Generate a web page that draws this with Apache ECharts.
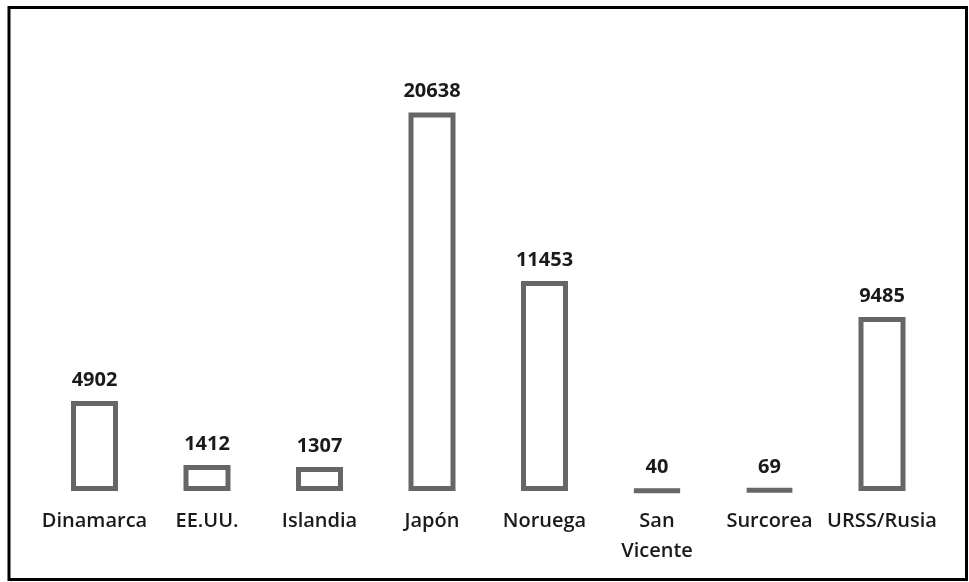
<!DOCTYPE html>
<html>
<head>
<meta charset="utf-8">
<script src="https://cdn.jsdelivr.net/npm/echarts@6/dist/echarts.min.js"></script>
<style>
  html, body { margin: 0; padding: 0; background: #ffffff; }
  #chart { width: 969px; height: 582px; }
</style>
</head>
<body>
<div id="chart"></div>
<script>
// Países y capturas
const categories = ['Dinamarca', 'EE.UU.', 'Islandia', 'Japón', 'Noruega', 'San Vicente', 'Surcorea', 'URSS/Rusia'];
const values = [4902, 1412, 1307, 20638, 11453, 40, 69, 9485];

const chart = echarts.init(document.getElementById('chart'));

chart.setOption({
  backgroundColor: '#ffffff',
  animation: false,
  textStyle: { fontFamily: '"Open Sans", "Noto Sans", sans-serif' },
  grid: { left: 38.25, right: 30.75, top: 87.6, bottom: 91, containLabel: false },
  xAxis: {
    type: 'category',
    data: categories,
    axisLine: { show: false },
    axisTick: { show: false },
    axisLabel: {
      interval: 0,
      margin: 15,
      fontSize: 20,
      fontWeight: 600,
      lineHeight: 30,
      color: '#1a1a1a',
      formatter: v => v.replace(' ', '\n')
    }
  },
  yAxis: {
    type: 'value',
    min: 0,
    max: 22000,
    show: false,
    splitLine: { show: false }
  },
  series: [{
    type: 'bar',
    data: values,
    barWidth: 47,
    itemStyle: {
      color: '#ffffff',
      borderColor: '#666666',
      borderWidth: 5
    },
    label: {
      show: true,
      position: 'top',
      distance: 11,
      fontFamily: '"Open Sans", "Noto Sans", sans-serif',
      fontSize: 20,
      fontWeight: 'bold',
      color: '#1a1a1a'
    }
  }],
  graphic: [{
    type: 'rect',
    shape: { x: 9, y: 7.5, width: 957.5, height: 572 },
    style: { fill: 'none', stroke: '#000000', lineWidth: 3 },
    silent: true
  }]
});
</script>
</body>
</html>
